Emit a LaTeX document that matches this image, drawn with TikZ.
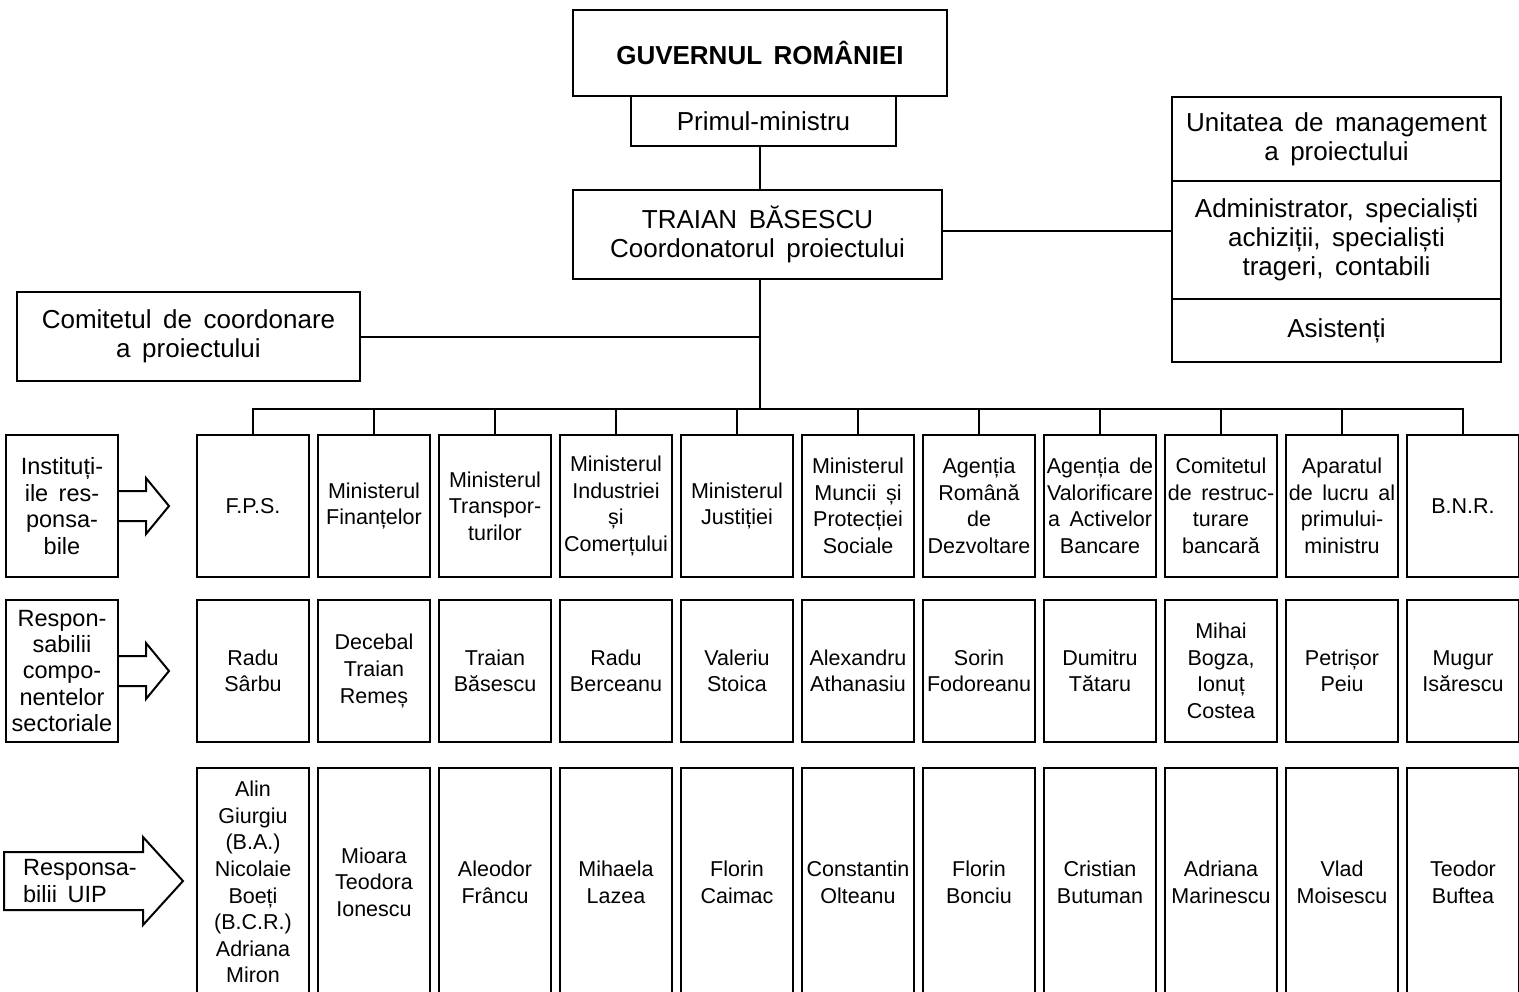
\documentclass[tikz,border=0pt]{standalone}
\usepackage{fontspec}
\setmainfont{Liberation Sans}[WordSpace=1.6]
\begin{document}
\begin{tikzpicture}[x=0.5pt, y=-0.5pt, line width=1pt,
    box/.style={draw, inner sep=0pt, align=center},
    topbox/.style={box, font=\fontsize{13}{14.5}\selectfont},
    cell/.style={box, minimum width=56pt, font=\fontsize{10.75}{13.3}\selectfont},
    inst/.style={cell, minimum height=71pt},
    resp/.style={cell, minimum height=71pt},
    uip/.style={cell, minimum height=114pt},
    labelbox/.style={box, minimum width=56pt, minimum height=71pt, font=\fontsize{11.75}{13.2}\selectfont}]
    \useasboundingbox (0,0) rectangle (1519,991);

    % government and prime minister
    \node[topbox, minimum width=187pt, minimum height=43pt, font=\fontsize{13}{14.5}\selectfont\bfseries] (gov) at (760,53) {GUVERNUL ROMÂNIEI};
    \node[topbox, minimum width=132.5pt, minimum height=25pt] (pm) at (763.5,121) {Primul-ministru};

    % coordinator
    \node[topbox, minimum width=184.5pt, minimum height=44.5pt] (coord) at (757.5,234.5) {TRAIAN BĂSESCU\\Coordonatorul proiectului};

    % coordination committee
    \node[topbox, minimum width=171.5pt, minimum height=44.5pt] (comit) at (188.5,336.5) {Comitetul de coordonare\\a proiectului};

    % management unit
    \node[topbox, minimum width=164.5pt, minimum height=42pt] (uma1) at (1336.5,139) {Unitatea de management\\a proiectului};
    \node[topbox, minimum width=164.5pt, minimum height=59pt] (uma2) at (1336.5,240) {Administrator, specialiști\\achiziții, specialiști\\trageri, contabili};
    \node[topbox, minimum width=164.5pt, minimum height=31.5pt] (uma3) at (1336.5,330.5) {Asistenți};

    % bus point
    \coordinate (bus) at (760,409);

    % row 1
    \node[labelbox] (lab1) at (62,506) {Instituți-\\ile res-\\ponsa-\\bile};
    \node[inst] (i1) at (253,506) {F.P.S.};
    \node[inst] (i2) at (374,506) {Ministerul\\Finanțelor};
    \node[inst] (i3) at (495,506) {Ministerul\\Transpor-\\turilor};
    \node[inst] (i4) at (616,506) {Ministerul\\Industriei\\și\\Comerțului};
    \node[inst] (i5) at (737,506) {Ministerul\\Justiției};
    \node[inst] (i6) at (858,506) {Ministerul\\Muncii și\\Protecției\\Sociale};
    \node[inst] (i7) at (979,506) {Agenția\\Română\\de\\Dezvoltare};
    \node[inst] (i8) at (1100,506) {Agenția de\\Valorificare\\a Activelor\\Bancare};
    \node[inst] (i9) at (1221,506) {Comitetul\\de restruc-\\turare\\bancară};
    \node[inst] (i10) at (1342,506) {Aparatul\\de lucru al\\primului-\\ministru};
    \node[inst] (i11) at (1463,506) {B.N.R.};

    % row 2
    \node[labelbox] (lab2) at (62,671) {Respon-\\sabilii\\compo-\\nentelor\\sectoriale};
    \node[resp] (r1) at (253,671) {Radu\\Sârbu};
    \node[resp] (r2) at (374,671) {Decebal\\Traian\\Remeș};
    \node[resp] (r3) at (495,671) {Traian\\Băsescu};
    \node[resp] (r4) at (616,671) {Radu\\Berceanu};
    \node[resp] (r5) at (737,671) {Valeriu\\Stoica};
    \node[resp] (r6) at (858,671) {Alexandru\\Athanasiu};
    \node[resp] (r7) at (979,671) {Sorin\\Fodoreanu};
    \node[resp] (r8) at (1100,671) {Dumitru\\Tătaru};
    \node[resp] (r9) at (1221,671) {Mihai\\Bogza,\\Ionuț\\Costea};
    \node[resp] (r10) at (1342,671) {Petrișor\\Peiu};
    \node[resp] (r11) at (1463,671) {Mugur\\Isărescu};

    % row 3
    \node[align=left, inner sep=0pt, font=\fontsize{11.75}{13.2}\selectfont] (lab3) at (80,881) {Responsa-\\bilii UIP};
    \node[uip] (u1) at (253,882) {Alin\\Giurgiu\\(B.A.)\\Nicolaie\\Boeți\\(B.C.R.)\\Adriana\\Miron};
    \node[uip] (u2) at (374,882) {Mioara\\Teodora\\Ionescu};
    \node[uip] (u3) at (495,882) {Aleodor\\Frâncu};
    \node[uip] (u4) at (616,882) {Mihaela\\Lazea};
    \node[uip] (u5) at (737,882) {Florin\\Caimac};
    \node[uip] (u6) at (858,882) {Constantin\\Olteanu};
    \node[uip] (u7) at (979,882) {Florin\\Bonciu};
    \node[uip] (u8) at (1100,882) {Cristian\\Butuman};
    \node[uip] (u9) at (1221,882) {Adriana\\Marinescu};
    \node[uip] (u10) at (1342,882) {Vlad\\Moisescu};
    \node[uip] (u11) at (1463,882) {Teodor\\Buftea};

    % block arrows
    \draw (lab1.east) ++(0,-15) -- ++(27,0) -- ++(0,-13) -- ++(23,28) -- ++(-23,28) -- ++(0,-13) -- ++(-27,0);
    \draw (lab2.east) ++(0,-15) -- ++(27,0) -- ++(0,-13) -- ++(23,28) -- ++(-23,28) -- ++(0,-13) -- ++(-27,0);
    \draw (4,852) -- (143,852) -- (143,837) -- (183,881) -- (143,925) -- (143,910) -- (4,910) -- cycle;

    % connectors
    \draw (pm.south -| bus) -- (coord.north -| bus);
    \draw (coord.south -| bus) -- (bus);
    \draw (comit.east) -- (comit.east -| bus);
    \draw ([yshift=2pt]coord.east) -- ([yshift=2pt]coord.east -| uma2.west);
    \draw (i1.north) -- (i1.north |- bus) -- (i11.north |- bus) -- (i11.north)
          (i2.north) -- (i2.north |- bus)  (i3.north) -- (i3.north |- bus)
          (i4.north) -- (i4.north |- bus)  (i5.north) -- (i5.north |- bus)
          (i6.north) -- (i6.north |- bus)  (i7.north) -- (i7.north |- bus)
          (i8.north) -- (i8.north |- bus)  (i9.north) -- (i9.north |- bus)
          (i10.north) -- (i10.north |- bus);
\end{tikzpicture}
\end{document}
